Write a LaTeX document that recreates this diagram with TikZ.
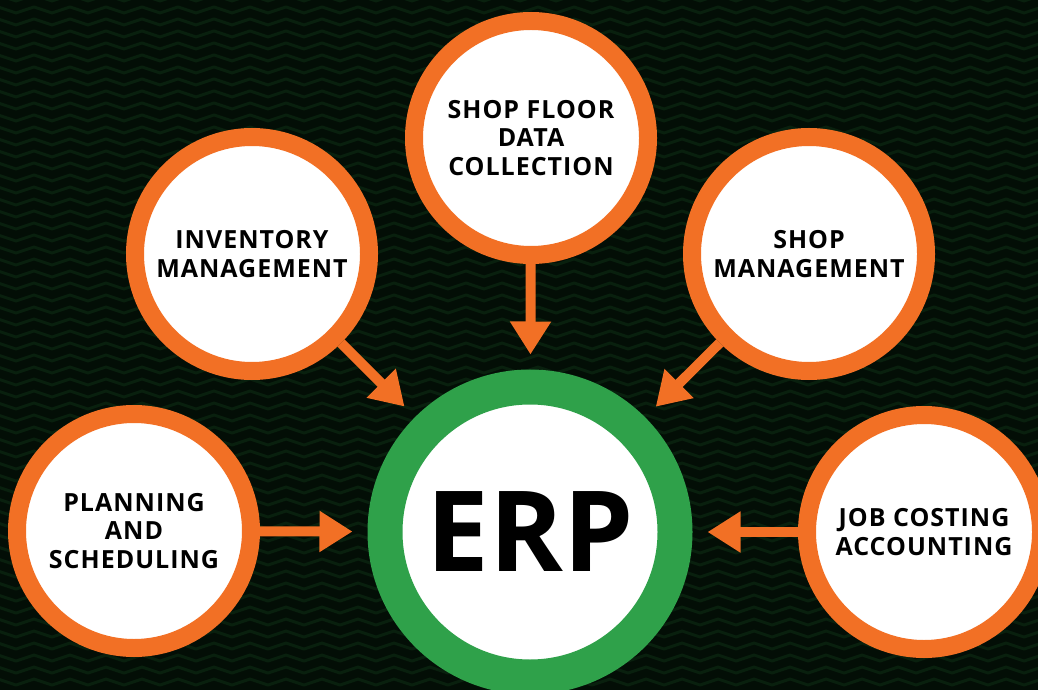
\documentclass[tikz,border=0pt]{standalone}
\usepackage{fontspec}
\setmainfont{Open Sans}
\newfontfamily\topicfont[LetterSpace=4]{Open Sans}
\usetikzlibrary{arrows.meta}

\begin{document}
\begin{tikzpicture}[x=1pt,y=1pt]
\definecolor{fillColor}{RGB}{3,14,6}
\definecolor{meshColor}{RGB}{9,32,14}
\definecolor{ringColor}{RGB}{242,112,37}
\definecolor{hubColor}{RGB}{47,161,74}
\tikzset{
  topic/.style={circle,draw=ringColor,line width=18pt,fill=white,minimum size=234pt,
    inner sep=0pt,align=center,text=black,font=\topicfont\fontsize{25}{28.3}\selectfont\bfseries},
  hub/.style={circle,draw=hubColor,line width=35pt,fill=white,minimum size=290pt,
    inner sep=0pt,text=black,font=\fontsize{112}{112}\selectfont\bfseries},
  feed/.style={color=ringColor,line width=10pt,shorten >=15pt,
    -{Triangle[length=33pt,width=39pt]}}
}
\useasboundingbox (0,0) rectangle (1038,689);
\fill[fillColor] (-6,-6) rectangle (1044,695);
\begin{scope}
\path[clip] (0,0) rectangle (1038,689);

% background mesh
\foreach \y in {6,18,...,696}
  \draw[meshColor,line width=3pt,line join=round]
    (-20,\y) \foreach \x in {0,36,...,1080} {-- (\x-2,\y+4) -- (\x+16,\y-2)};

% hub and topics
\node[hub] (erp) at (530,157) {\raisebox{-3pt}{ERP}};

\node[topic] (plan) at (134,158) {PLANNING\\AND\\SCHEDULING};

\node[topic] (inv) at (252,435) {INVENTORY\\MANAGEMENT};

\node[topic] (floor) at (531,551) {SHOP FLOOR\\DATA\\COLLECTION};

\node[topic] (shop) at (809,435) {SHOP\\MANAGEMENT};

\node[topic] (job) at (924,157) {JOB COSTING\\ACCOUNTING};

% feeds into the hub
\draw[feed] (plan) -- (erp);
\draw[feed] (inv) -- (erp);
\draw[feed] (floor) -- (erp);
\draw[feed] (shop) -- (erp);
\draw[feed] (job) -- (erp);
\end{scope}
\end{tikzpicture}
\end{document}
